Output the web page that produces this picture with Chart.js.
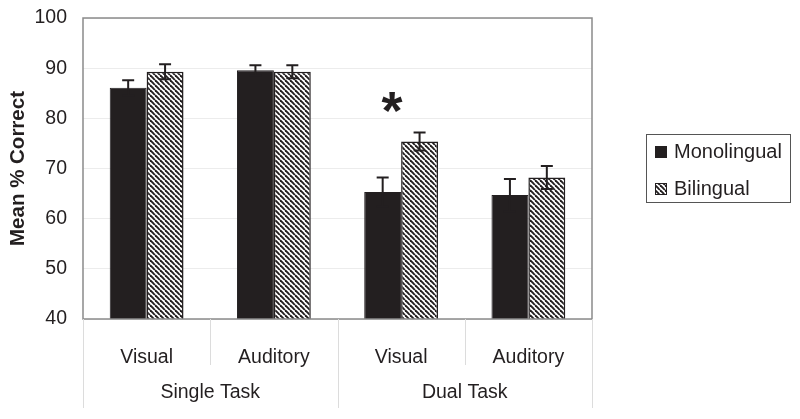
<!DOCTYPE html>
<html>
<head>
<meta charset="utf-8">
<script src="https://cdn.jsdelivr.net/npm/chart.js@4.4.1/dist/chart.umd.min.js"></script>
<style>
	html, body { margin: 0; padding: 0; background: #fff; }
</style>
</head>
<body>
<canvas id="graphique" width="800" height="419"></canvas>
<script>
// Données
const conditions = ["Visual", "Auditory", "Visual", "Auditory"];
const groupes = ["Single Task", "Dual Task"];
const monolingue = [86.1, 89.6, 65.3, 64.7];
const monolingueErr = [1.5, 1.0, 2.9, 3.2];
const bilingue = [89.3, 89.3, 75.4, 68.2];
const bilingueErr = [1.5, 1.3, 1.8, 2.3];
// Astérisque de significativité (indice de la condition, hauteur en %)
const etoileIndex = 2;
const etoileValeur = 83.4;

const POLICE = "'Liberation Sans', Arial, sans-serif";
const NOIR = "#231f20";

// Motif hachuré pour les barres "Bilingual"
function motifHachure() {
	const c = document.createElement("canvas");
	c.width = 5;
	c.height = 5;
	const ctx = c.getContext("2d");
	ctx.fillStyle = "#fff";
	ctx.fillRect(0, 0, 5, 5);
	ctx.strokeStyle = NOIR;
	ctx.lineWidth = 1.9;
	for (const x0 of [-5, 0, 5]) {
		ctx.beginPath();
		ctx.moveTo(x0, 0);
		ctx.lineTo(x0 + 5, 5);
		ctx.stroke();
	}
	return ctx.createPattern(c, "repeat");
}
const hachure = motifHachure();

// Barres d'erreur, cadre du graphique et astérisque
const pluginDessin = {
	id: "dessin",
	afterDatasetsDraw(chart) {
		const ctx = chart.ctx;
		const y = chart.scales.y;
		const erreurs = [monolingueErr, bilingueErr];
		ctx.save();
		ctx.strokeStyle = NOIR;
		ctx.lineWidth = 2;
		chart.data.datasets.forEach((ds, d) => {
			chart.getDatasetMeta(d).data.forEach((barre, i) => {
				const v = ds.data[i];
				const haut = y.getPixelForValue(v + erreurs[d][i]);
				const bas = y.getPixelForValue(v - erreurs[d][i]);
				ctx.beginPath();
				ctx.moveTo(barre.x, haut);
				ctx.lineTo(barre.x, bas);
				ctx.moveTo(barre.x - 6, haut);
				ctx.lineTo(barre.x + 6, haut);
				ctx.moveTo(barre.x - 6, bas);
				ctx.lineTo(barre.x + 6, bas);
				ctx.stroke();
			});
		});

		// Cadre gris
		const a = chart.chartArea;
		ctx.strokeStyle = "#8a8a8a";
		ctx.lineWidth = 1.5;
		ctx.strokeRect(a.left, a.top, a.right - a.left, a.bottom - a.top);

		// Astérisque
		const x = chart.scales.x.getPixelForValue(etoileIndex) - 9;
		ctx.fillStyle = NOIR;
		ctx.font = "bold 54px " + POLICE;
		ctx.textAlign = "center";
		ctx.textBaseline = "middle";
		ctx.fillText("*", x, y.getPixelForValue(etoileValeur) + 13);
		ctx.restore();
	},
	afterDraw(chart) {
		const ctx = chart.ctx;
		const a = chart.chartArea;
		const x = chart.scales.x;
		ctx.save();

		// Séparateurs sous l'axe des abscisses
		ctx.strokeStyle = "#dcdcdc";
		ctx.lineWidth = 1;
		const n = conditions.length;
		for (let i = 0; i <= n; i++) {
			const px = i === n ? a.right : x.getPixelForValue(i - 0.5);
			const longue = i % 2 === 0;
			ctx.beginPath();
			ctx.moveTo(Math.round(px) + 0.5, a.bottom);
			ctx.lineTo(Math.round(px) + 0.5, longue ? 408 : 365);
			ctx.stroke();
		}

		// Libellés des groupes
		ctx.fillStyle = NOIR;
		ctx.font = "19.5px " + POLICE;
		ctx.textAlign = "center";
		ctx.textBaseline = "middle";
		groupes.forEach((g, k) => {
			const cx = (x.getPixelForValue(2 * k) + x.getPixelForValue(2 * k + 1)) / 2;
			ctx.fillText(g, cx, 393);
		});

		// Légende encadrée
		ctx.strokeStyle = "#555";
		ctx.lineWidth = 1;
		ctx.strokeRect(646.5, 134.5, 144, 68);
		ctx.font = "20px " + POLICE;
		ctx.textAlign = "left";
		chart.data.datasets.forEach((ds, d) => {
			const cy = d === 0 ? 152 : 189;
			ctx.fillStyle = ds.backgroundColor;
			ctx.fillRect(655, cy - 6, 12, 12);
			ctx.strokeStyle = NOIR;
			ctx.strokeRect(655.5, cy - 5.5, 11, 11);
			ctx.fillStyle = NOIR;
			ctx.fillText(ds.label, 674, cy);
		});
		ctx.restore();
	}
};

new Chart(document.querySelector("#graphique"), {
	type: "bar",
	data: {
		labels: conditions,
		datasets: [
			{
				label: "Monolingual",
				data: monolingue,
				backgroundColor: NOIR,
				borderColor: NOIR,
				borderWidth: 1,
			},
			{
				label: "Bilingual",
				data: bilingue,
				backgroundColor: hachure,
				borderColor: NOIR,
				borderWidth: 1.5,
			},
		],
	},
	options: {
		responsive: false,
		animation: false,
		devicePixelRatio: 1,
		layout: { padding: { top: 18, right: 208, left: 0, bottom: 0 } },
		datasets: { bar: { categoryPercentage: 0.58, barPercentage: 1 } },
		plugins: {
			legend: { display: false },
			tooltip: { enabled: false },
		},
		scales: {
			x: {
				grid: { display: false },
				border: { display: false },
				ticks: { color: NOIR, font: { family: POLICE, size: 19.5 }, padding: 19, maxRotation: 0 },
				afterFit(scale) { scale.height = 100; },
			},
			y: {
				min: 40,
				max: 100,
				grid: { color: "#ececec", drawTicks: false },
				border: { display: false },
				ticks: { stepSize: 10, color: NOIR, font: { family: POLICE, size: 19.5 }, padding: 16 },
				title: {
					display: true,
					text: "Mean % Correct",
					color: NOIR,
					font: { family: POLICE, size: 20.5, weight: "bold" },
					padding: { top: 6, bottom: 0 },
				},
				afterFit(scale) {
					scale.width = 83;
					scale.paddingTop = 0;
					scale.paddingBottom = 0;
				},
			},
		},
	},
	plugins: [pluginDessin],
});
</script>
</body>
</html>
